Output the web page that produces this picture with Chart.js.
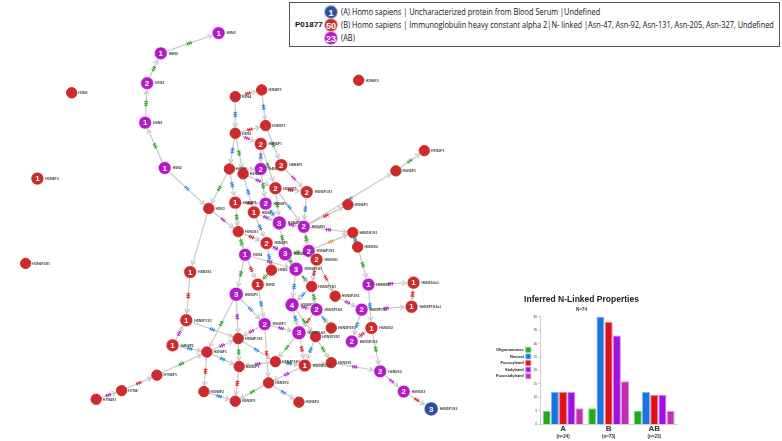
<!DOCTYPE html>
<html>
<head>
<meta charset="utf-8">
<script src="https://cdn.jsdelivr.net/npm/chart.js@4.4.0/dist/chart.umd.min.js"></script>
<style>
body { margin:0; background:#fff; width:782px; height:441px; overflow:hidden; position:relative; font-family:"Liberation Sans", Arial, sans-serif; }
#netWrap { position:absolute; left:0; top:0; width:782px; height:441px; }
#barWrap { position:absolute; left:482px; top:292px; width:246px; height:149px; }
#key { position:absolute; left:289px; top:2px; width:489px; height:43px; border:1px solid #555; background:#fff; }
.row { position:absolute; left:0; height:14px; width:489px; }
.dot { position:absolute; left:34px; top:0; width:14px; height:14px; border-radius:50%; color:#fff; font-weight:bold; font-size:9px; line-height:14px; text-align:center; box-sizing:border-box; border:1px solid rgba(255,255,255,0.6); }
.txt { position:absolute; left:51px; top:1px; font-size:8.6px; white-space:nowrap; color:#111; transform:scaleX(0.86); transform-origin:left center; font-family:"Open Sans", sans-serif; }
.acc { position:absolute; left:5px; top:2px; font-size:8px; font-weight:bold; color:#111; }
</style>
</head>
<body>
<div id="netWrap"><canvas id="net"></canvas></div>
<div id="key">
  <div class="row" style="top:2px"><div class="dot" style="background:#2d4f9e">1</div><div class="txt">(A) Homo sapiens | Uncharacterized protein from Blood Serum |Undefined</div></div>
  <div class="row" style="top:15px"><div class="acc">P01877</div><div class="dot" style="background:#cc2b2b">50</div><div class="txt">(B) Homo sapiens | Immunoglobulin heavy constant alpha 2|N- linked |Asn-47, Asn-92, Asn-131, Asn-205, Asn-327, Undefined</div></div>
  <div class="row" style="top:28px"><div class="dot" style="background:#b41ac8">23</div><div class="txt">(AB)</div></div>
</div>
<div id="barWrap"><canvas id="bar"></canvas></div>
<script>
// bar chart data
var categories = ['A', 'B', 'AB'];
var groupN = [24, 73, 23];
var totalN = 74;
var oligomannose = [5, 6, 5];
var neutral = [12, 40, 12];
var fucosylated = [12, 38, 11];
var sialylated = [12, 33, 11];
var fucosialylated = [6, 16, 5];

// network data (node positions)
var nodeLabel = ['H9N2','H8N2','H7N2','H6N2','H3N2','H5N2','H5N4F3','H3N6F2S1','H4N3S1','H3N6F3',
  'H3N4','H3N4F1','H3N5','H3N5F1','H4N5F1','H4N4F1','H4N5','H4N3','H5N3','H5N5F1',
  'H5N5F1S1','H6N5F1','H7N5F1','H5N3','H5N3F1','H5N4F1','H5N4','H5N4F1','H5N4S1','H5N6F1',
  'H5N3S1','H5N5F1','H5N4F1S1','H5N4F1S1','H6N5S1S1','H6N5S2','H5N5S1','H5N4','H5N5','H5N4F1S1',
  'H5N5','H5N5F1S1','H6N5F2S1','H6N5S2','H6N5S2a1','H5N5F1','H5N5F1S1','H4N5F1','H5N4F1','H5N4F1S1',
  'H5N5F1','H5N4F1S1','H5N5F1S2','H5N5F1S2','H5N5F2S1','H5N5F1','H5N4F1S1','H5N5F2S1','H6N5S1','H7N6F1',
  'H5N5F2','H7N4','H7N4S1','H5N4F2','H5N5F3','H5N6F2','H6N5F1S2','H6N5F1S2a1','H6N5S2','H6N5F1S2',
  'H6N5F2S1','H6N5S2','H6N5S3','H6N5F1S3'];
var nodeX = [215,156,142,140,65,160,30,18,186,358,
  232,259,232,263,258,279,258,226,240,273,
  305,396,425,205,232,263,251,277,302,347,
  235,264,283,307,352,357,315,242,269,294,
  255,310,334,368,414,233,182,168,203,235,
  262,290,315,297,314,236,273,303,330,152,
  266,116,90,200,232,297,361,412,371,351,
  330,380,404,432];
var nodeY = [26,47,78,119,88,166,177,265,274,75,
  92,85,130,122,141,163,167,167,172,187,
  191,169,148,208,202,203,212,223,227,204,
  232,244,255,252,233,248,261,256,272,271,
  287,289,299,287,285,297,324,350,357,343,
  328,308,313,337,341,372,367,371,368,381,
  389,397,406,398,408,409,313,310,332,346,
  332,377,398,416];
var nodeCount = [1,1,2,1,0,1,1,0,1,0,
  0,0,0,0,2,2,2,0,0,2,
  2,0,0,0,1,2,1,3,2,0,
  0,2,3,2,0,0,2,1,0,3,
  1,0,0,1,1,3,1,1,0,0,
  2,4,2,3,0,0,0,1,0,0,
  0,0,0,0,0,0,2,1,1,2,
  0,2,2,3];
var nodeGroup = ['AB','AB','AB','AB','B','AB','B','B','B','B',
  'B','B','B','B','B','B','AB','B','B','B',
  'B','B','B','B','B','AB','B','AB','AB','B',
  'B','B','AB','AB','B','B','B','AB','B','AB',
  'B','B','B','AB','B','AB','B','B','B','B',
  'AB','AB','AB','AB','B','B','B','B','B','B',
  'B','B','B','B','B','B','AB','B','B','AB',
  'B','AB','AB','A'];
// edges: from, to, added residue (g hex, b hexnac, r fuc, p neuac, o other)
var edges = [
  [3,2,'g'],[2,1,'g'],[1,0,'g'],[5,3,'g'],[5,23,'b'],
  [10,11,'r'],[10,12,'b'],[11,13,'b'],[12,13,'r'],[12,14,'p'],[13,15,'g'],
  [12,17,'b'],[12,18,'g'],[14,16,'b'],[14,19,'g'],[17,16,'r'],[18,19,'p'],[15,20,'p'],[19,20,'r'],
  [17,24,'b'],[17,23,'g'],[18,26,'b'],[16,25,'g'],[24,25,'r'],[25,27,'b'],[26,27,'p'],[19,27,'g'],
  [19,28,'b'],[20,28,'b'],[23,30,'p'],[23,8,''],[24,30,'g'],[26,31,'b'],[27,32,'g'],[28,33,'g'],
  [27,28,'p'],[30,31,'r'],[30,37,'g'],[31,32,'p'],[32,33,'g'],[28,34,'p'],[33,34,'o'],[28,21,'b'],
  [21,22,'g'],[28,29,'r'],[33,36,'r'],[35,43,'g'],[37,40,'r'],[31,38,'b'],[37,39,'p'],[32,39,'g'],
  [36,41,'r'],[38,40,'g'],[39,41,'g'],[36,42,'r'],[39,51,'b'],[40,50,'b'],[45,50,'b'],[45,49,'p'],
  [37,45,'g'],[8,46,'r'],[43,44,'p'],[44,67,'r'],[42,66,'p'],[41,52,'g'],[41,51,'b'],[51,52,'p'],
  [51,53,'b'],[52,53,'r'],[51,54,'g'],[52,70,'b'],[66,67,'p'],[66,69,'b'],[68,69,'r'],[43,68,'b'],
  [68,71,'g'],[58,71,'p'],[71,72,'p'],[72,73,'r'],[50,49,'p'],[50,53,'p'],[50,60,'r'],[53,56,'g'],
  [53,57,'r'],[54,57,'b'],[54,58,'g'],[56,57,'b'],[49,55,'g'],[49,56,'b'],[46,49,'b'],[47,46,'p'],
  [47,48,'b'],[45,48,'g'],[48,49,'p'],[48,55,'b'],[48,63,'r'],[59,48,'g'],[61,59,'r'],[62,61,'p'],
  [63,64,'b'],[55,64,'r'],[60,64,'g'],[60,65,'b'],[56,55,'p'],[57,60,'p'],[57,58,''],[35,34,'b']
];

var groupColor = { A: '#2d4f9e', B: '#cc2b2b', AB: '#b41ac8' };
var markColor = { g: '#2fa52f', b: '#2e86de', r: '#e0262b', p: '#b42ad0', o: '#e89a2c' };

function nodeRadius(i) {
  if (nodeCount[i] === 0) return 5.2;
  return nodeCount[i] >= 3 ? 7 : 6.4;
}

var netPlugin = {
  id: 'net',
  beforeDatasetsDraw: function (chart) {
    var ctx = chart.ctx, xs = chart.scales.x, ys = chart.scales.y;
    ctx.save();
    edges.forEach(function (e) {
      var x1 = xs.getPixelForValue(nodeX[e[0]]), y1 = ys.getPixelForValue(nodeY[e[0]]);
      var x2 = xs.getPixelForValue(nodeX[e[1]]), y2 = ys.getPixelForValue(nodeY[e[1]]);
      var dx = x2 - x1, dy = y2 - y1, len = Math.sqrt(dx * dx + dy * dy);
      var ux = dx / len, uy = dy / len;
      var sx = x1 + ux * nodeRadius(e[0]), sy = y1 + uy * nodeRadius(e[0]);
      var ex = x2 - ux * (nodeRadius(e[1]) + 1), ey = y2 - uy * (nodeRadius(e[1]) + 1);
      ctx.strokeStyle = '#c9c9c9';
      ctx.lineWidth = 1.2;
      ctx.beginPath(); ctx.moveTo(sx, sy); ctx.lineTo(ex, ey); ctx.stroke();
      // arrow head
      ctx.beginPath();
      ctx.moveTo(ex - ux * 4 - uy * 2.5, ey - uy * 4 + ux * 2.5);
      ctx.lineTo(ex, ey);
      ctx.lineTo(ex - ux * 4 + uy * 2.5, ey - uy * 4 - ux * 2.5);
      ctx.stroke();
      // residue mark
      if (e[2]) {
        var mx = (sx + ex) / 2, my = (sy + ey) / 2;
        ctx.strokeStyle = markColor[e[2]];
        ctx.lineWidth = 1;
        ctx.beginPath(); ctx.moveTo(mx - ux * 3, my - uy * 3); ctx.lineTo(mx + ux * 3, my + uy * 3); ctx.stroke();
        for (var k = -1; k <= 1; k++) {
          var cx = mx + ux * k * 1.8, cy = my + uy * k * 1.8;
          ctx.beginPath();
          ctx.moveTo(cx - uy * 1.8, cy + ux * 1.8);
          ctx.lineTo(cx + uy * 1.8, cy - ux * 1.8);
          ctx.stroke();
        }
      }
    });
    ctx.restore();
  },
  afterDatasetsDraw: function (chart) {
    var ctx = chart.ctx;
    var meta = chart.getDatasetMeta(0);
    ctx.save();
    ctx.textBaseline = 'middle';
    meta.data.forEach(function (pt, i) {
      if (nodeCount[i] > 0) {
        ctx.fillStyle = '#fff';
        ctx.font = 'bold 8px "Liberation Sans", Arial, sans-serif';
        ctx.textAlign = 'center';
        ctx.fillText(String(nodeCount[i]), pt.x, pt.y + 0.5);
      }
      ctx.fillStyle = '#444';
      ctx.font = 'bold 3.6px "Liberation Sans", Arial, sans-serif';
      ctx.textAlign = 'left';
      ctx.fillText(nodeLabel[i], pt.x + nodeRadius(i) + 1.5, pt.y + 0.3);
    });
    ctx.restore();
  }
};

new Chart(document.getElementById('net'), {
  type: 'scatter',
  data: {
    datasets: [{
      data: nodeX.map(function (x, i) { return { x: x, y: nodeY[i] }; }),
      pointRadius: function (c) { return nodeRadius(c.dataIndex); },
      pointBackgroundColor: function (c) { return groupColor[nodeGroup[c.dataIndex]]; },
      pointBorderColor: function (c) { return nodeCount[c.dataIndex] > 0 ? 'rgba(255,255,255,0.55)' : groupColor[nodeGroup[c.dataIndex]]; },
      pointBorderWidth: 1
    }]
  },
  options: {
    responsive: true,
    maintainAspectRatio: false,
    animation: false,
    layout: { padding: 0 },
    plugins: { legend: { display: false }, tooltip: { enabled: false } },
    scales: {
      x: { type: 'linear', min: 0, max: 782, display: false },
      y: { type: 'linear', min: 0, max: 441, reverse: true, display: false }
    }
  },
  plugins: [netPlugin]
});

// (n=..) line under each group label
var nPlugin = {
  id: 'groupN',
  afterDraw: function (chart) {
    var ctx = chart.ctx, xs = chart.scales.x;
    ctx.save();
    ctx.fillStyle = '#333';
    ctx.font = 'bold 4.5px "Liberation Sans", Arial, sans-serif';
    ctx.textAlign = 'center';
    ctx.textBaseline = 'middle';
    categories.forEach(function (c, i) {
      ctx.fillText('(n=' + groupN[i] + ')', xs.getPixelForTick(i), 145);
    });
    ctx.restore();
  }
};

function barSet(label, data, fill, edge) {
  return { label: label, data: data, backgroundColor: fill, borderColor: edge, borderWidth: 1, categoryPercentage: 0.9, barPercentage: 0.98 };
}

new Chart(document.getElementById('bar'), {
  type: 'bar',
  data: {
    labels: categories,
    datasets: [
      barSet('Oligomannose', oligomannose, '#1faa1f', '#7bd67b'),
      barSet('Neutral', neutral, '#1a74e0', '#8ab9f0'),
      barSet('Fucosylated', fucosylated, '#e0101a', '#f07f84'),
      barSet('Sialylated', sialylated, '#a010e0', '#cf86f0'),
      barSet('Fucosialylated', fucosialylated, '#c030b0', '#e093d8')
    ]
  },
  options: {
    responsive: true,
    maintainAspectRatio: false,
    animation: false,
    layout: { padding: { left: 4, right: 51, top: 0, bottom: 7 } },
    plugins: {
      title: { display: true, text: 'Inferred N-Linked Properties', color: '#222', font: { size: 8.5, weight: 'bold', family: '"Liberation Sans", Arial, sans-serif' }, padding: { top: 3, bottom: 2 } },
      subtitle: { display: true, text: 'N=' + totalN, color: '#333', font: { size: 4.5, weight: 'bold' }, padding: { top: 0, bottom: 4 } },
      legend: { position: 'left', rtl: true, labels: { boxWidth: 5, boxHeight: 5, padding: 1.6, color: '#222', font: { size: 4, weight: 'bold' } } },
      tooltip: { enabled: false }
    },
    scales: {
      x: {
        grid: { display: false, drawTicks: false },
        border: { color: '#cfcfcf' },
        ticks: { color: '#333', font: { size: 8, weight: 'bold' }, padding: 0 }
      },
      y: {
        min: 0, max: 40,
        grid: { drawOnChartArea: false, tickLength: 2, color: '#cfcfcf' },
        border: { color: '#cfcfcf' },
        ticks: { stepSize: 5, color: '#444', font: { size: 3.5 }, padding: 1 }
      }
    }
  },
  plugins: [nPlugin]
});
</script>
</body>
</html>
